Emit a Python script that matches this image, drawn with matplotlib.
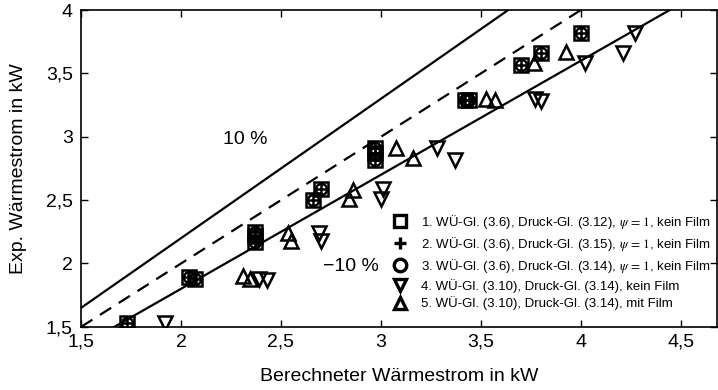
import matplotlib
matplotlib.use("Agg")
import matplotlib.pyplot as plt
import numpy as np

plt.rcParams["font.family"] = ["Liberation Sans", "DejaVu Sans"]
plt.rcParams["mathtext.fontset"] = "stix"

# =========================
# DATA
# =========================
# series 1-3 share the same points (square, plus, circle)
calc_123 = [1.73, 2.04, 2.07, 2.37, 2.37, 2.37, 2.66, 2.70, 2.97, 2.97, 2.97,
            3.42, 3.44, 3.70, 3.80, 4.00]
exp_123 = [1.53, 1.89, 1.88, 2.17, 2.22, 2.25, 2.50, 2.59, 2.82, 2.87, 2.91,
           3.29, 3.29, 3.57, 3.66, 3.82]

calc_4 = [1.92, 2.39, 2.43, 2.69, 2.70, 3.00, 3.01, 3.28, 3.37, 3.77, 3.80,
          4.02, 4.21, 4.27]
exp_4 = [1.53, 1.88, 1.87, 2.24, 2.18, 2.51, 2.59, 2.91, 2.82, 3.30, 3.28,
         3.58, 3.66, 3.82]

calc_5 = [2.31, 2.345, 2.535, 2.55, 2.84, 2.86, 3.075, 3.16, 3.525, 3.57,
          3.765, 3.925]
exp_5 = [1.90, 1.88, 2.24, 2.18, 2.51, 2.58, 2.91, 2.83, 3.30, 3.29, 3.58, 3.67]

labels = [
    r"1. WÜ-Gl. (3.6), Druck-Gl. (3.12), $\psi\,=\,1$, kein Film",
    r"2. WÜ-Gl. (3.6), Druck-Gl. (3.15), $\psi\,=\,1$, kein Film",
    r"3. WÜ-Gl. (3.6), Druck-Gl. (3.14), $\psi\,=\,1$, kein Film",
    "4. WÜ-Gl. (3.10), Druck-Gl. (3.14), kein Film",
    "5. WÜ-Gl. (3.10), Druck-Gl. (3.14), mit Film",
]

xticks = [1.5, 2, 2.5, 3, 3.5, 4, 4.5]
xticklabels = ["1,5", "2", "2,5", "3", "3,5", "4", "4,5"]
yticks = [1.5, 2, 2.5, 3, 3.5, 4]
yticklabels = ["1,5", "2", "2,5", "3", "3,5", "4"]

# =========================
# FIGURE
# =========================
fig = plt.figure(figsize=(7.18, 3.9), dpi=100)
ax = fig.add_axes([0.113, 0.162, 0.885, 0.812])

xx = np.array([1.5, 5.0])
ax.plot(xx, 1.1 * xx, color="black", lw=1.6)
ax.plot(xx, xx, color="black", lw=1.6, ls=(0, (6, 4)))
ax.plot(xx, 0.9 * xx, color="black", lw=1.6)

mk = dict(ls="none", color="black", mfc="none", mew=1.8)
ax.plot(calc_123, exp_123, marker="s", ms=10, label=labels[0], **mk)
ax.plot(calc_123, exp_123, marker="+", ms=10, label=labels[1], **mk)
ax.plot(calc_123, exp_123, marker="o", ms=8, label=labels[2], **mk)
ax.plot(calc_4, exp_4, marker="v", ms=10, label=labels[3], **mk)
ax.plot(calc_5, exp_5, marker="^", ms=10, label=labels[4], **mk)

ax.text(2.32, 2.98, "10 %", fontsize=14, ha="center", va="center")
ax.text(2.85, 1.98, "\u221210 %", fontsize=14, ha="center", va="center")

ax.set_xlim(1.5, 4.68)
ax.set_ylim(1.5, 4.0)
ax.set_xticks(xticks)
ax.set_xticklabels(xticklabels)
ax.set_yticks(yticks)
ax.set_yticklabels(yticklabels)
ax.tick_params(direction="in", top=True, right=True, labelsize=14,
               length=5, width=1)
ax.tick_params(axis="y", pad=6)
ax.tick_params(axis="x", pad=5)
for sp in ax.spines.values():
    sp.set_linewidth(1.2)

ax.set_xlabel("Berechneter Wärmestrom in kW", fontsize=14)
ax.set_ylabel("Exp. Wärmestrom in kW", fontsize=14)
ax.xaxis.set_label_coords(0.5, -0.13)
ax.yaxis.set_label_coords(-0.085, 0.5)

leg = ax.legend(loc="lower right", bbox_to_anchor=(1.0, 0.035), frameon=False,
                fontsize=9.5, handlelength=1.5, handletextpad=0.9,
                labelspacing=0.3, borderaxespad=0.0)
for h in leg.legend_handles:
    h.set_markeredgewidth(2.4)
    h.set_markersize(9)

fig.savefig("out.png", dpi=100)
